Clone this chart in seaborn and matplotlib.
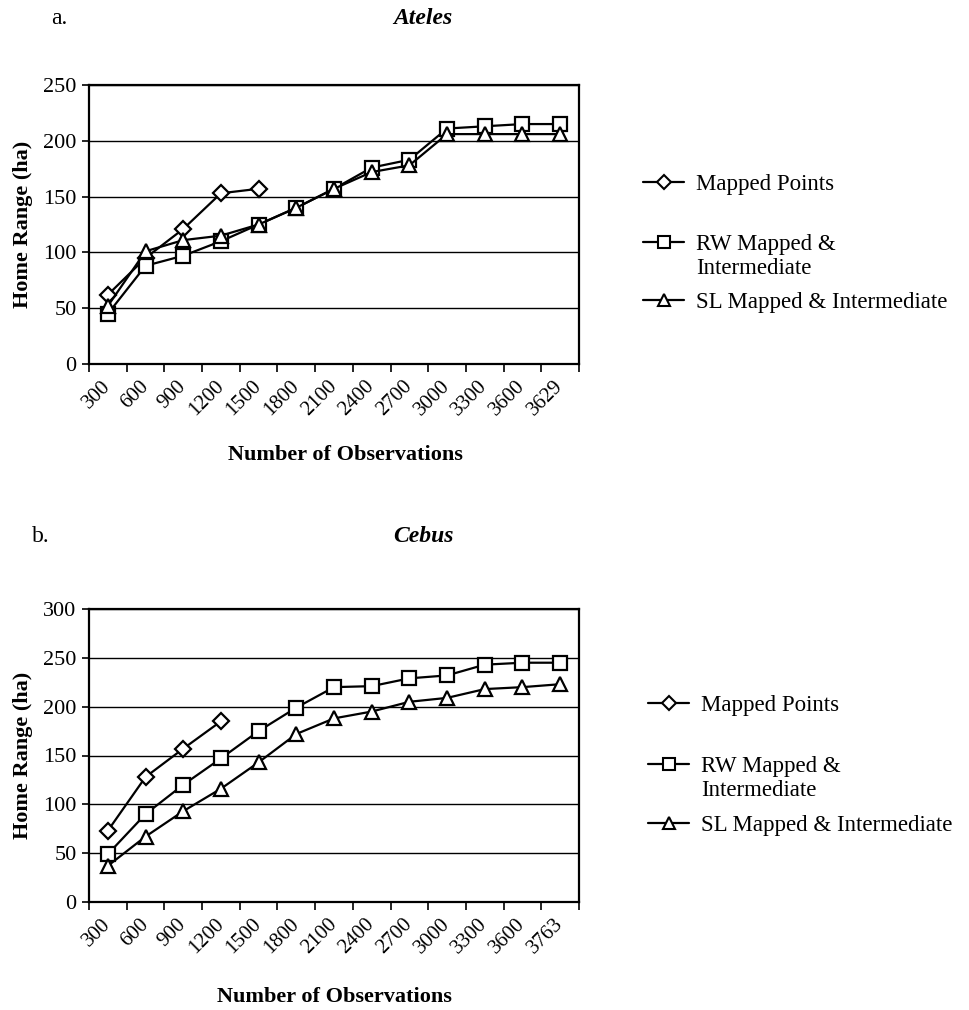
import numpy as np
import matplotlib
matplotlib.use("Agg")
import matplotlib.pyplot as plt
import seaborn as sns
from matplotlib.lines import Line2D

# ---------------- data ----------------
ateles_labels = ["300", "600", "900", "1200", "1500", "1800", "2100", "2400",
                 "2700", "3000", "3300", "3600", "3629"]
ateles_mapped = [62, 95, 121, 153, 157]
ateles_rw = [45, 88, 97, 110, 125, 140, 157, 176, 183, 211, 213, 215, 215]
ateles_sl = [52, 101, 111, 115, 125, 140, 157, 172, 178, 206, 206, 206, 206]

cebus_labels = ["300", "600", "900", "1200", "1500", "1800", "2100", "2400",
                "2700", "3000", "3300", "3600", "3763"]
cebus_mapped = [73, 128, 157, 185]
cebus_rw = [49, 90, 120, 147, 175, 199, 220, 221, 229, 232, 243, 245, 245]
cebus_sl = [37, 67, 93, 116, 143, 172, 188, 195, 205, 209, 218, 220, 223]

series_names = ["Mapped Points", "RW Mapped &", "SL Mapped & Intermediate"]
rw_second_line = "Intermediate"
series_markers = ["D", "s", "^"]

# ---------------- style ----------------
sns.set_style("white")
plt.rcParams["font.family"] = ["Liberation Serif", "DejaVu Serif"]
for key in ["text.color", "axes.labelcolor", "xtick.color", "ytick.color"]:
    plt.rcParams[key] = "black"

W, H = 970, 1010
fig = plt.figure(figsize=(W / 100, H / 100), dpi=100)


def fx(x):
    return x / W


def fy(y):
    return 1 - y / H


LEG_FS = 16.5


def make_panel(rect_px, labels, series, ymax, title, letter, title_y, xlabel_xy,
               legend_ys, legend_x):
    left, top, right, bottom = rect_px
    ax = fig.add_axes([fx(left), fy(bottom), (right - left) / W, (bottom - top) / H])
    n = len(labels)
    for vals, mk in zip(series, series_markers):
        xs = np.arange(len(vals))
        ms = 8.5 if mk == "D" else 10
        sns.lineplot(x=xs, y=vals, ax=ax, color="black", linewidth=1.6,
                     marker=mk, markersize=ms, markerfacecolor="white",
                     markeredgecolor="black", markeredgewidth=1.6, zorder=3)
    ax.set_xlim(-0.5, n - 0.5)
    ax.set_ylim(0, ymax)
    ax.set_yticks(np.arange(0, ymax + 1, 50))
    ax.yaxis.grid(True, color="black", linewidth=1.0)
    ax.set_axisbelow(True)
    ax.set_xticks(np.arange(n))
    ax.set_xticklabels(labels, rotation=45, ha="right", va="center",
                       rotation_mode="anchor", fontsize=15, color="black")
    ax.tick_params(axis="x", which="major", length=0, pad=14)
    ax.set_xticks(np.arange(n + 1) - 0.5, minor=True)
    ax.tick_params(axis="x", which="minor", length=6, width=1.2, direction="out",
                   color="black", bottom=True)
    ax.tick_params(axis="y", length=5, width=1.2, direction="out", color="black",
                   left=True, labelsize=16, pad=4, labelcolor="black")
    for s in ax.spines.values():
        s.set_color("black")
        s.set_linewidth(1.6)
    ax.set_xlabel("")
    ax.set_ylabel("")
    # labels
    fig.text(fx(23), fy((top + bottom) / 2), "Home Range (ha)", rotation=90,
             ha="center", va="center", fontsize=16, fontweight="bold")
    fig.text(fx(xlabel_xy[0]), fy(xlabel_xy[1]), "Number of Observations",
             ha="center", va="center", fontsize=16, fontweight="bold")
    fig.text(fx(letter[1]), fy(title_y), letter[0], ha="left", va="center",
             fontsize=17)
    fig.text(fx(423), fy(title_y), title, ha="center", va="center",
             fontsize=17, fontweight="bold", fontstyle="italic")
    # legend (one entry per legend for Excel-like spacing)
    fs_px = LEG_FS * 100 / 72
    for name, mk, ly in zip(series_names, series_markers, legend_ys):
        ms = 7 if mk == "D" else 8
        h = Line2D([], [], color="black", linewidth=1.6, marker=mk, markersize=ms,
                   markerfacecolor="white", markeredgecolor="black",
                   markeredgewidth=1.5)
        fig.legend([h], [name], loc="upper left",
                   bbox_to_anchor=(fx(legend_x), fy(ly)), frameon=False,
                   fontsize=LEG_FS, handlelength=1.8, handletextpad=0.5,
                   borderpad=0, borderaxespad=0)
    text_x = legend_x + 2.3 * fs_px
    fig.text(fx(text_x), fy(legend_ys[1] + 24), rw_second_line, ha="left",
             va="top", fontsize=LEG_FS)
    return ax


make_panel((89, 85, 579, 364), ateles_labels,
           [ateles_mapped, ateles_rw, ateles_sl], 250, "Ateles", ("a.", 51),
           19, (345, 455), (174, 234, 292), 643)

make_panel((89, 609, 579, 902), cebus_labels,
           [cebus_mapped, cebus_rw, cebus_sl], 300, "Cebus", ("b.", 32),
           537, (334, 997), (695, 756, 815), 648)

fig.savefig("out.png", dpi=100, facecolor="white")
